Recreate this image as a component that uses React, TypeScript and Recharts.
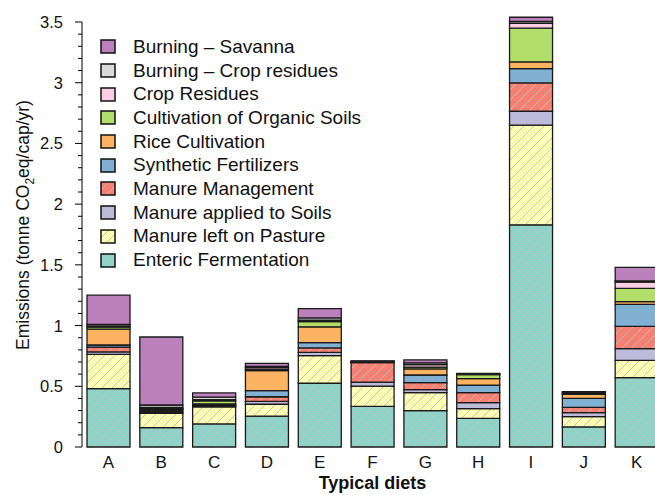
import React from 'react';
import { BarChart, Bar, XAxis, YAxis, Legend } from 'recharts';

// Typical diets on the x axis
const diets = ['A', 'B', 'C', 'D', 'E', 'F', 'G', 'H', 'I', 'J', 'K'];

// Emissions per source (tonne CO2eq/cap/yr)
const enteric = [0.48, 0.16, 0.19, 0.255, 0.525, 0.335, 0.3, 0.236, 1.83, 0.165, 0.571];
const pasture = [0.283, 0.118, 0.14, 0.097, 0.227, 0.167, 0.147, 0.08, 0.82, 0.085, 0.143];
const soils = [0.02, 0.005, 0.005, 0.024, 0.028, 0.033, 0.025, 0.049, 0.115, 0.033, 0.096];
const manureMgmt = [0.04, 0.013, 0.005, 0.038, 0.036, 0.16, 0.058, 0.082, 0.233, 0.044, 0.184];
const synthetic = [0.017, 0.01, 0.01, 0.05, 0.043, 0.002, 0.063, 0.063, 0.118, 0.073, 0.181];
const rice = [0.13, 0.005, 0.005, 0.165, 0.131, 0.002, 0.05, 0.053, 0.055, 0.034, 0.022];
const organic = [0.017, 0.005, 0.025, 0.01, 0.042, 0.002, 0.015, 0.033, 0.278, 0.006, 0.11];
const cropResidues = [0.01, 0.01, 0.01, 0.015, 0.012, 0.002, 0.02, 0.004, 0.04, 0.006, 0.05];
const burningCrop = [0.013, 0.02, 0.02, 0.01, 0.019, 0.004, 0.015, 0.004, 0.015, 0.008, 0.01];
const savanna = [0.24, 0.56, 0.035, 0.025, 0.076, 0.003, 0.024, 0.003, 0.035, 0.002, 0.113];

const majorTicks = [0, 0.5, 1, 1.5, 2, 2.5, 3, 3.5];
const AXIS_MAX = 3.5;

// stacking order: first = bottom
const series = [
  { key: 'enteric', name: 'Enteric Fermentation', color: '#8DD3C7', hatch: true, values: enteric },
  { key: 'pasture', name: 'Manure left on Pasture', color: '#FFFFB3', hatch: true, values: pasture },
  { key: 'soils', name: 'Manure applied to Soils', color: '#BEBADA', hatch: false, values: soils },
  { key: 'manureMgmt', name: 'Manure Management', color: '#FB8072', hatch: true, values: manureMgmt },
  { key: 'synthetic', name: 'Synthetic Fertilizers', color: '#80B1D3', hatch: false, values: synthetic },
  { key: 'rice', name: 'Rice Cultivation', color: '#FDB462', hatch: false, values: rice },
  { key: 'organic', name: 'Cultivation of Organic Soils', color: '#B3DE69', hatch: false, values: organic },
  { key: 'cropResidues', name: 'Crop Residues', color: '#FCCDE5', hatch: false, values: cropResidues },
  { key: 'burningCrop', name: 'Burning \u2013 Crop residues', color: '#D9D9D9', hatch: false, values: burningCrop },
  { key: 'savanna', name: 'Burning \u2013 Savanna', color: '#BC80BD', hatch: false, values: savanna },
];

const data = diets.map((diet, i) => {
  const row: Record<string, string | number> = { diet };
  series.forEach((s) => {
    row[s.key] = s.values[i];
  });
  return row;
});

// tallest stack runs a little past the 3.5 axis end (bar I), like the original
const stackMax = Math.max(...diets.map((_, i) => series.reduce((acc, s) => acc + s.values[i], 0)));

// layout: 3.5 sits at y=22, 0 at y=447
const PLOT_BOTTOM = 447;
const PX_PER_UNIT = (PLOT_BOTTOM - 22) / AXIS_MAX;
const TOP_MARGIN = PLOT_BOTTOM - stackMax * PX_PER_UNIT;

// minor ticks every 0.1
const yTicks = Array.from({ length: 36 }, (_, i) => i / 10);

const FONT = '"Liberation Sans", Arial, Helvetica, sans-serif';
const fillFor = (s: { key: string; color: string; hatch: boolean }) => (s.hatch ? `url(#hatch-${s.key})` : s.color);

const YTick = (props: any) => {
  const { x, y, payload } = props;
  const v = payload.value as number;
  const major = majorTicks.some((m) => Math.abs(m - v) < 1e-6);
  return (
    <g>
      {v === 0 && <line x1={x} x2={x} y1={y} y2={y - AXIS_MAX * PX_PER_UNIT} stroke="#000" strokeWidth={1} />}
      <line x1={x - (major ? 7 : 4)} x2={x} y1={y} y2={y} stroke="#000" strokeWidth={1} />
      {major && (
        <text x={x - 19} y={y} dy="0.36em" textAnchor="end" fontSize={16.5} fill="#111" fontFamily={FONT}>
          {String(v)}
        </text>
      )}
    </g>
  );
};

const XTick = (props: any) => {
  const { x, y, payload } = props;
  return (
    <text x={x} y={y + 21} textAnchor="middle" fontSize={17} fill="#111" fontFamily={FONT}>
      {payload.value}
    </text>
  );
};

const YLabel = () => {
  const cx = 29;
  const cy = 225;
  return (
    <text
      x={cx}
      y={cy}
      transform={`rotate(-90, ${cx}, ${cy})`}
      textAnchor="middle"
      fontSize={17.5}
      fill="#111"
      fontFamily={FONT}
    >
      <tspan>Emissions (tonne CO</tspan>
      <tspan dy={5} fontSize={12}>2</tspan>
      <tspan dy={-5}>eq/cap/yr)</tspan>
    </text>
  );
};

const renderLegend = () => (
  <div style={{ fontFamily: FONT, fontSize: 19, color: '#111' }}>
    {[...series].reverse().map((s) => (
      <div key={s.key} style={{ display: 'flex', alignItems: 'center', height: 23.7, whiteSpace: 'nowrap' }}>
        <svg width={16} height={15} style={{ marginRight: 17, flex: 'none' }}>
          <rect x={1} y={1} width={14} height={13} fill={fillFor(s)} stroke="#111" strokeWidth={1.5} />
        </svg>
        <span>{s.name}</span>
      </div>
    ))}
  </div>
);

const App: React.FC = () => {
  return (
    <div
      style={{
        position: 'fixed',
        left: 0,
        top: 0,
        width: 655,
        height: 495,
        overflow: 'hidden',
        background: '#fff',
      }}
    >
      <BarChart
        width={680}
        height={495}
        data={data}
        margin={{ top: TOP_MARGIN, right: 17, bottom: 0, left: 0 }}
        barCategoryGap={5}
      >
        <defs>
          {series
            .filter((s) => s.hatch)
            .map((s) => (
              <pattern key={s.key} id={`hatch-${s.key}`} patternUnits="userSpaceOnUse" width={10} height={10}>
                <rect width={10} height={10} fill={s.color} />
                <path d="M-2,2 l4,-4 M0,10 l10,-10 M8,12 l4,-4" stroke="#c2c2c2" strokeWidth={1} />
              </pattern>
            ))}
        </defs>
        <XAxis
          dataKey="diet"
          height={48}
          axisLine={false}
          tickLine={false}
          tickSize={0}
          tickMargin={0}
          tick={<XTick />}
          interval={0}
          label={{
            value: 'Typical diets',
            position: 'insideBottom',
            offset: 6,
            fontSize: 18,
            fontWeight: 'bold',
            fill: '#111',
            fontFamily: FONT,
          }}
        />
        <YAxis
          width={82}
          domain={[0, stackMax]}
          ticks={yTicks}
          interval={0}
          axisLine={false}
          tickLine={false}
          tickSize={0}
          tickMargin={0}
          tick={<YTick />}
          label={<YLabel />}
        />
        <Legend
          layout="vertical"
          align="center"
          verticalAlign="middle"
          content={renderLegend}
          wrapperStyle={{ position: 'absolute', left: 100, top: 35, width: 'auto', height: 'auto' }}
        />
        {series.map((s) => (
          <Bar
            key={s.key}
            dataKey={s.key}
            name={s.name}
            stackId="diet"
            fill={fillFor(s)}
            stroke="#1a1a1a"
            strokeWidth={1.3}
            isAnimationActive={false}
          />
        ))}
      </BarChart>
    </div>
  );
};

export default App;
